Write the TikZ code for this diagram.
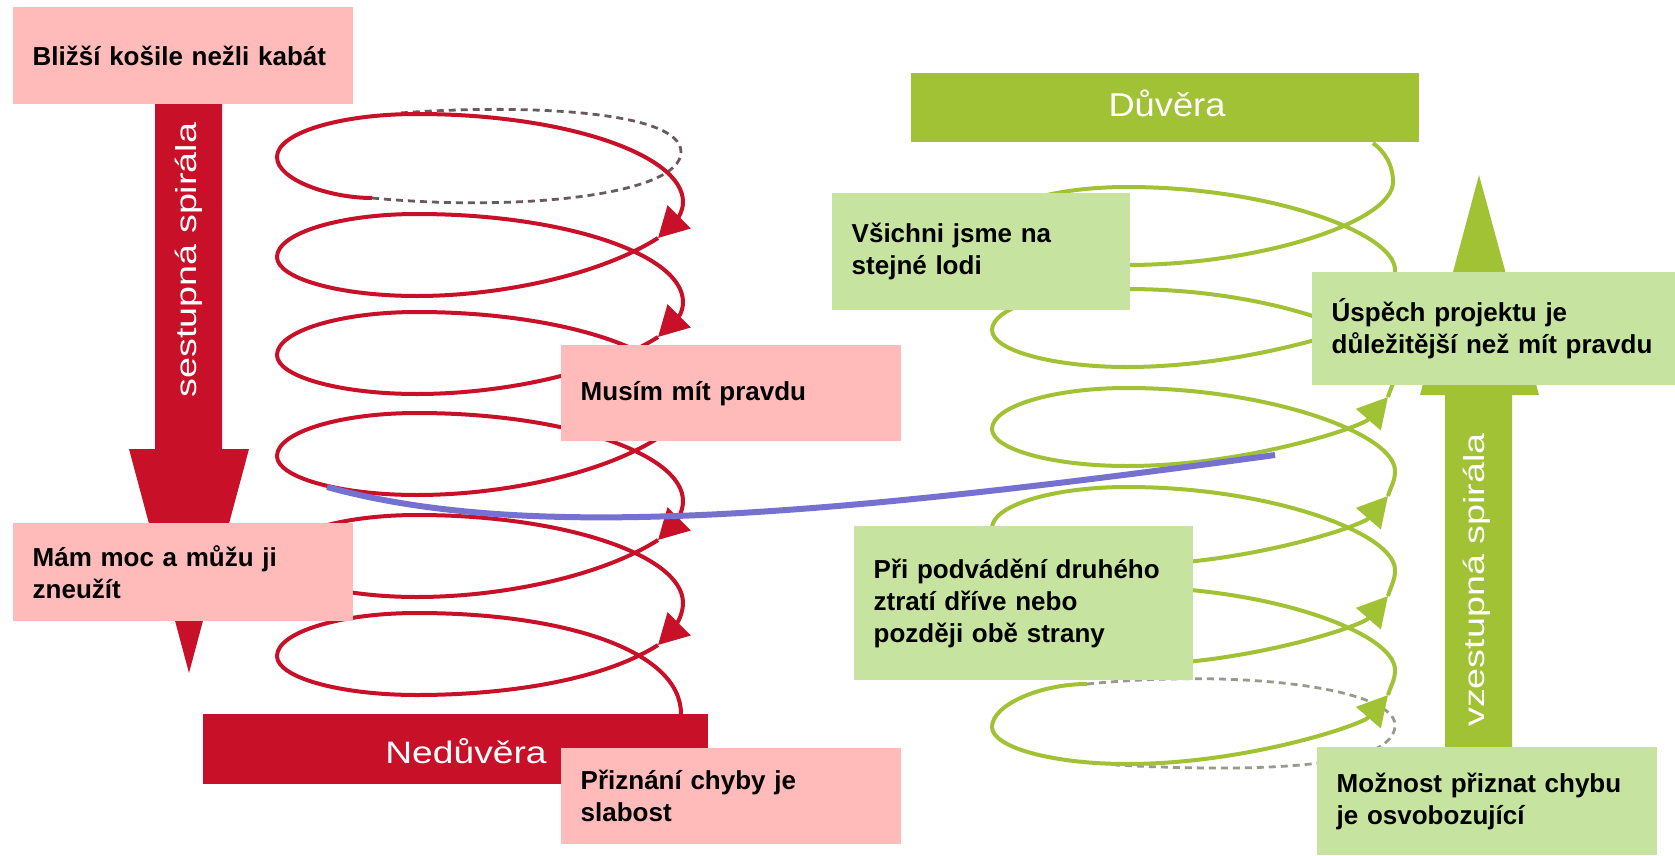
\documentclass[tikz,border=0pt]{standalone}
\usepackage{fontspec}
\setmainfont{Liberation Sans}
\newfontfamily\wideA[FakeStretch=1.1]{Liberation Sans}
\newfontfamily\wideB[FakeStretch=1.2]{Liberation Sans}
\newfontfamily\wideC[FakeStretch=1.3]{Liberation Sans}
\usetikzlibrary{arrows.meta}
\definecolor{redC}{RGB}{200,16,40}
\definecolor{greenC}{RGB}{162,194,54}
\definecolor{pinkC}{RGB}{255,186,186}
\definecolor{lgreenC}{RGB}{198,228,160}
\definecolor{blueC}{RGB}{118,113,208}
\definecolor{dashR}{RGB}{105,90,95}
\definecolor{dashG}{RGB}{150,155,140}
\begin{document}
\begin{tikzpicture}[x=1pt,y=-1pt,
  redline/.style={draw=redC,line width=4pt},
  greenline/.style={draw=greenC,line width=4pt},
  tipR/.style={-{Triangle[length=30pt,width=32pt]}},
  dashline/.style={line width=2.8pt,dash pattern=on 7pt off 5pt},
  barlabel/.style={text=white,inner sep=0pt},
  pinkbox/.style={fill=pinkC,anchor=north west,inner xsep=19.5pt,inner ysep=0pt,
    align=left,font=\bfseries\fontsize{26}{32}\selectfont},
  greenbox/.style={pinkbox,fill=lgreenC}]
\useasboundingbox (0,0) rectangle (1675,856);
\fill[white] (0,0) rectangle (1675,856);

% big vertical arrows
\fill[redC] (155,95) -- (222,95) -- (222,449) -- (249,449) -- (189,673) -- (129,449) -- (155,449) -- cycle;
\node[barlabel,font=\wideC\fontsize{29}{34}\selectfont,rotate=90,anchor=base] (sest) at (196,260) {sestupná spirála};
\fill[greenC] (1445,755) -- (1512,755) -- (1512,395) -- (1539,395) -- (1479,175) -- (1420,395) -- (1445,395) -- cycle;
\node[barlabel,font=\wideC\fontsize{29}{34}\selectfont,rotate=90,anchor=base] (vzes) at (1484,580) {vzestupná spirála};

% bars
\fill[redC] (203,714) rectangle (708,784);
\node[barlabel,font=\wideB\fontsize{31}{36}\selectfont,anchor=base] (nedu) at (466,763) {Nedůvěra};
\fill[greenC] (911,73) rectangle (1419,142);
\node[barlabel,font=\wideA\fontsize{33}{38}\selectfont,anchor=base] (duve) at (1167,117) {Důvěra};

% red spiral (downwards)
\draw[dashR,dashline] (372,198) .. controls (520,212) and (681,195) .. (681,152)
  .. controls (681,110) and (520,104) .. (400,113);
\draw[redline,tipR] (372,198) .. controls (330,198) and (277,180) .. (277,157)
  .. controls (277,133) and (340,114) .. (417,114)
  .. controls (563,114) and (683,154) .. (683,202)
  .. controls (683,218) and (668,228) .. (658,238);
\foreach \Tp/\L/\T in {238/257/337, 337/355/438, 438/456/540, 540/558/645} {
  \draw[redline,tipR] (658,\Tp) .. controls (600,\Tp+37) and (500,\L+39) .. (417,\L+39)
    .. controls (340,\L+39) and (277,\L+21.5) .. (277,\L)
    .. controls (277,\L-23.7) and (340,\L-43) .. (417,\L-43)
    .. controls (563,\L-43) and (683,\L-3) .. (683,\L+45)
    .. controls (683,\L+62) and (668,\T-10) .. (658,\T);
}
\draw[redline] (658,645) .. controls (600,682) and (500,695) .. (417,695)
  .. controls (340,695) and (277,677.5) .. (277,656)
  .. controls (277,632.3) and (340,613) .. (417,613)
  .. controls (563,613) and (681,650) .. (681,714);

% green spiral (upwards)
\draw[dashG,dashline] (1087,684) .. controls (1250,668) and (1395,690) .. (1395,725)
  .. controls (1395,770) and (1250,772) .. (1115,765);
\draw[greenline,tipR] (1087,684) .. controls (1040,684) and (992,705) .. (992,727)
  .. controls (992,747.4) and (1053,764) .. (1127,764)
  .. controls (1245,764) and (1362,725) .. (1388,695);
\foreach \Ap/\L in {695/628, 596/528, 496/429, 397/330} {
  \draw[greenline,tipR] (1388,\Ap) .. controls (1391,\Ap-10) and (1395,\L+52) .. (1395,\L+42)
    .. controls (1395,\L+5) and (1270,\L-41) .. (1127,\L-41)
    .. controls (1053,\L-41) and (992,\L-22.6) .. (992,\L)
    .. controls (992,\L+20.4) and (1053,\L+37) .. (1127,\L+37)
    .. controls (1245,\L+37) and (1362,\L-2) .. (1388,\L-32);
}
\draw[greenline] (1388,298) .. controls (1391,288) and (1395,280) .. (1395,270)
  .. controls (1395,233) and (1270,187) .. (1127,187)
  .. controls (1053,187) and (992,205.4) .. (992,228)
  .. controls (992,248.4) and (1053,265) .. (1127,265)
  .. controls (1260,265) and (1393,222) .. (1393,182)
  .. controls (1393,165) and (1385,152) .. (1373,143);

% blue line
\coordinate (bl1) at (327,487);
\coordinate (bl2) at (1275,455);
\draw[blueC,line width=6pt] (bl1) .. controls (520,540) and (800,520) .. (bl2);

% text boxes
\node[pinkbox,text width=301pt,minimum height=97pt] (b1) at (13,7) {Bližší košile nežli kabát};
\node[pinkbox,text width=301pt,minimum height=96pt] (b2) at (561,345) {Musím mít pravdu};
\node[pinkbox,text width=301pt,minimum height=98pt] (b3) at (13,523) {Mám moc a můžu ji\\zneužít};
\node[pinkbox,text width=301pt,minimum height=96pt] (b4) at (561,748) {Přiznání chyby je\\slabost};
\node[greenbox,text width=259pt,minimum height=117pt] (g1) at (832,193) {Všichni jsme na\\stejné lodi};
\node[greenbox,text width=324pt,minimum height=113pt] (g2) at (1312,272) {Úspěch projektu je\\důležitější než mít pravdu};
\node[greenbox,text width=300pt,minimum height=154pt] (g3) at (854,526) {Při podvádění druhého\\ztratí dříve nebo\\později obě strany};
\node[greenbox,text width=301pt,minimum height=108pt] (g4) at (1317,747) {Možnost přiznat chybu\\je osvobozující};
\end{tikzpicture}
\end{document}
